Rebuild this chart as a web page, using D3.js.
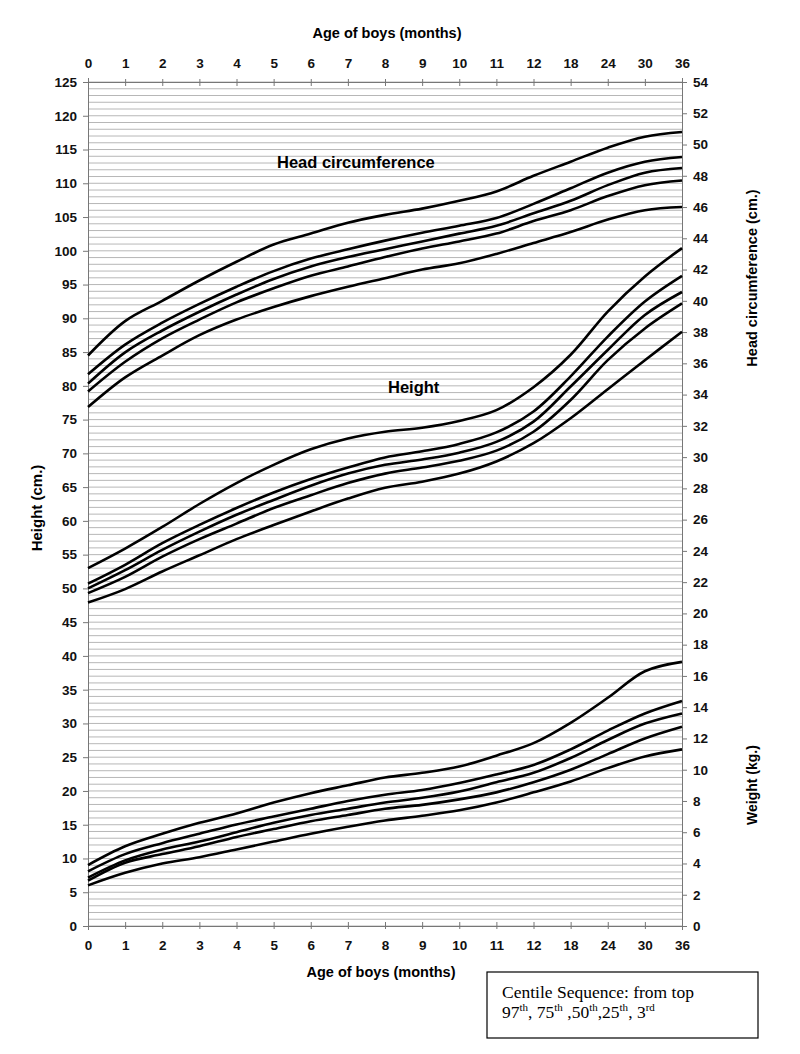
<!DOCTYPE html>
<html>
<head>
<meta charset="utf-8">
<script src="https://cdn.jsdelivr.net/npm/d3@7"></script>
<style>
  body { margin: 0; background: #fff; }
  text { font-family: "Liberation Sans", Arial, sans-serif; }
</style>
</head>
<body>
<div id="chart"></div>
<script>
// Age categories (months) - equally spaced on the chart
const ages = ["0", "1", "2", "3", "4", "5", "6", "7", "8", "9", "10", "11", "12", "18", "24", "30", "36"];
const centiles = ["97th", "75th", "50th", "25th", "3rd"];

// Head circumference (cm, right axis)
const head97 = [36.5, 38.7, 40.0, 41.3, 42.5, 43.6, 44.3, 45.0, 45.5, 45.9, 46.4, 47.0, 48.0, 48.9, 49.8, 50.5, 50.8];
const head75 = [35.3, 37.2, 38.6, 39.8, 40.9, 41.9, 42.7, 43.3, 43.85, 44.35, 44.8, 45.3, 46.2, 47.2, 48.2, 48.9, 49.2];
const head50 = [34.7, 36.7, 38.1, 39.3, 40.4, 41.4, 42.2, 42.8, 43.3, 43.8, 44.3, 44.8, 45.6, 46.4, 47.4, 48.2, 48.5];
const head25 = [34.2, 36.1, 37.6, 38.8, 39.9, 40.8, 41.6, 42.2, 42.8, 43.35, 43.8, 44.3, 45.1, 45.8, 46.7, 47.4, 47.7];
const head3 = [33.2, 35.1, 36.5, 37.8, 38.8, 39.6, 40.3, 40.9, 41.45, 42.0, 42.4, 43.0, 43.7, 44.4, 45.2, 45.8, 46.0];

// Height (cm, left axis)
const height97 = [53.0, 55.9, 59.1, 62.5, 65.6, 68.3, 70.6, 72.2, 73.2, 73.8, 74.8, 76.4, 79.8, 84.6, 91.0, 96.2, 100.4];
const height75 = [50.7, 53.5, 56.7, 59.4, 61.9, 64.2, 66.2, 67.9, 69.4, 70.3, 71.4, 73.1, 76.2, 81.4, 87.3, 92.5, 96.3];
const height50 = [50.0, 52.7, 55.7, 58.4, 60.9, 63.1, 65.2, 67.0, 68.3, 69.1, 70.1, 71.7, 74.7, 79.9, 85.3, 90.5, 93.9];
const height25 = [49.3, 51.7, 54.7, 57.3, 59.6, 61.9, 63.8, 65.6, 67.0, 67.9, 68.9, 70.4, 73.2, 77.9, 83.8, 88.5, 92.2];
const height3 = [47.9, 49.9, 52.5, 54.9, 57.3, 59.4, 61.4, 63.3, 64.9, 65.8, 67.0, 68.8, 71.5, 75.2, 79.5, 83.8, 88.0];

// Weight (kg, right axis)
const weight97 = [3.9, 5.1, 5.9, 6.6, 7.2, 7.9, 8.5, 9.0, 9.5, 9.8, 10.2, 10.9, 11.7, 13.0, 14.6, 16.3, 16.9];
const weight75 = [3.5, 4.6, 5.3, 5.9, 6.5, 7.0, 7.5, 8.0, 8.4, 8.7, 9.15, 9.7, 10.3, 11.3, 12.5, 13.6, 14.4];
const weight50 = [3.1, 4.2, 4.9, 5.4, 6.0, 6.6, 7.1, 7.5, 7.9, 8.2, 8.6, 9.2, 9.8, 10.75, 11.9, 12.95, 13.6];
const weight25 = [2.9, 4.05, 4.6, 5.1, 5.7, 6.2, 6.7, 7.1, 7.5, 7.75, 8.1, 8.55, 9.2, 10.0, 11.0, 12.0, 12.75];
const weight3 = [2.6, 3.4, 4.0, 4.4, 4.9, 5.4, 5.9, 6.35, 6.75, 7.05, 7.4, 7.9, 8.55, 9.25, 10.1, 10.85, 11.3];

// Axis tick values
const leftTicks = d3.range(0, 126, 5);
const rightTicks = d3.range(0, 55, 2);
const gridValues = d3.range(0, 126, 1);

const margin = {top: 82, right: 118, bottom: 128, left: 88},
    fullW = 800, fullH = 1054,
    width = fullW - margin.left - margin.right,
    height = fullH - margin.top - margin.bottom;

const svg = d3
    .select("#chart")
    .append("svg")
    .attr("width", fullW)
    .attr("height", fullH)
    .append("g")
    .attr("transform", `translate(${margin.left},${margin.top})`);

const xScale = d3.scalePoint().domain(ages).range([0, width]);
const yLeft = d3.scaleLinear().domain([0, 125]).range([height, 0]);
const yRight = d3.scaleLinear().domain([0, 54]).range([height, 0]);

// gridlines every 1 cm, drawn first so the curves stay on top
svg.append("g")
    .attr("class", "grid")
    .selectAll("line")
    .data(gridValues)
    .join("line")
    .attr("x1", 0)
    .attr("x2", width)
    .attr("y1", (d) => yLeft(d))
    .attr("y2", (d) => yLeft(d))
    .attr("stroke", "#a4a4a4")
    .attr("stroke-width", 0.8);

const styleAxis = (g) => {
    g.selectAll(".domain").attr("stroke", "#777");
    g.selectAll(".tick line").attr("stroke", "#777");
    g.selectAll("text")
        .style("font-family", "'Liberation Sans', Arial, sans-serif")
        .style("font-size", "13.5px")
        .style("font-weight", "bold")
        .attr("fill", "#111");
};

// top axis
svg.append("g")
    .call(d3.axisTop(xScale).tickSize(4).tickPadding(10))
    .call(styleAxis)
    .call((g) => g.selectAll(".tick line").attr("y2", 4).attr("y1", -3));

// bottom axis
svg.append("g")
    .attr("transform", `translate(0,${height})`)
    .call(d3.axisBottom(xScale).tickSize(4).tickPadding(10))
    .call(styleAxis)
    .call((g) => g.selectAll(".tick line").attr("y1", -4).attr("y2", 3));

// left axis (height)
svg.append("g")
    .call(d3.axisLeft(yLeft).tickValues(leftTicks).tickSize(5).tickPadding(6))
    .call(styleAxis);

// right axis (head circumference / weight)
svg.append("g")
    .attr("transform", `translate(${width},0)`)
    .call(d3.axisRight(yRight).tickValues(rightTicks).tickSize(5).tickPadding(6))
    .call(styleAxis);

const line = (scale) => d3.line()
    .x((d, i) => xScale(ages[i]))
    .y((d) => scale(d))
    .curve(d3.curveCatmullRom.alpha(0.5));

const drawSet = (sets, scale) => {
    svg.append("g")
        .selectAll("path")
        .data(sets)
        .join("path")
        .attr("d", (d) => line(scale)(d))
        .attr("fill", "none")
        .attr("stroke", "#000")
        .attr("stroke-width", 2.6)
        .attr("stroke-linejoin", "round");
};

drawSet([head97, head75, head50, head25, head3], yRight);
drawSet([height97, height75, height50, height25, height3], yLeft);
drawSet([weight97, weight75, weight50, weight25, weight3], yRight);

// labels inside the plot
svg.append("text")
    .attr("x", 189)
    .attr("y", 86)
    .style("font-size", "16.5px")
    .style("font-weight", "bold")
    .text("Head circumference");

svg.append("text")
    .attr("x", 300)
    .attr("y", 311)
    .style("font-size", "16.5px")
    .style("font-weight", "bold")
    .text("Height");

// axis titles
svg.append("text")
    .attr("text-anchor", "middle")
    .attr("x", 299)
    .attr("y", -44)
    .style("font-size", "14.5px")
    .style("font-weight", "bold")
    .text("Age of boys (months)");

svg.append("text")
    .attr("text-anchor", "middle")
    .attr("x", 293)
    .attr("y", height + 51)
    .style("font-size", "14.5px")
    .style("font-weight", "bold")
    .text("Age of boys (months)");

svg.append("text")
    .attr("text-anchor", "middle")
    .attr("transform", "rotate(-90)")
    .attr("x", -(508 - margin.top))
    .attr("y", 37 - margin.left + 5)
    .style("font-size", "15px")
    .style("font-weight", "bold")
    .text("Height (cm.)");

svg.append("text")
    .attr("text-anchor", "middle")
    .attr("transform", "rotate(-90)")
    .attr("x", -(278 - margin.top))
    .attr("y", 752 - margin.left + 5)
    .style("font-size", "14.5px")
    .style("font-weight", "bold")
    .text("Head circumference (cm.)");

svg.append("text")
    .attr("text-anchor", "middle")
    .attr("transform", "rotate(-90)")
    .attr("x", -(785 - margin.top))
    .attr("y", 752 - margin.left + 5)
    .style("font-size", "14px")
    .style("font-weight", "bold")
    .text("Weight (kg.)");

// centile legend box
const legend = svg.append("g")
    .attr("transform", `translate(${487 - margin.left},${972 - margin.top})`);

legend.append("rect")
    .attr("width", 271)
    .attr("height", 66)
    .attr("fill", "#fff")
    .attr("stroke", "#000")
    .attr("stroke-width", 1.2);

legend.append("text")
    .attr("x", 15)
    .attr("y", 26)
    .style("font-family", "'Liberation Serif', 'Times New Roman', serif")
    .style("font-size", "17.5px")
    .text("Centile Sequence: from top");

const seq = legend.append("text")
    .attr("x", 15)
    .attr("y", 46)
    .style("font-family", "'Liberation Serif', 'Times New Roman', serif")
    .style("font-size", "17.5px");

const seqParts = [["97", "th", ", "], ["75", "th", " ,"], ["50", "th", ","], ["25", "th", ", "], ["3", "rd", ""]];
seqParts.forEach((p) => {
    seq.append("tspan").text(p[0]);
    seq.append("tspan").attr("dy", -7).style("font-size", "11px").text(p[1]);
    seq.append("tspan").attr("dy", 7).text(p[2]);
});
</script>
</body>
</html>
